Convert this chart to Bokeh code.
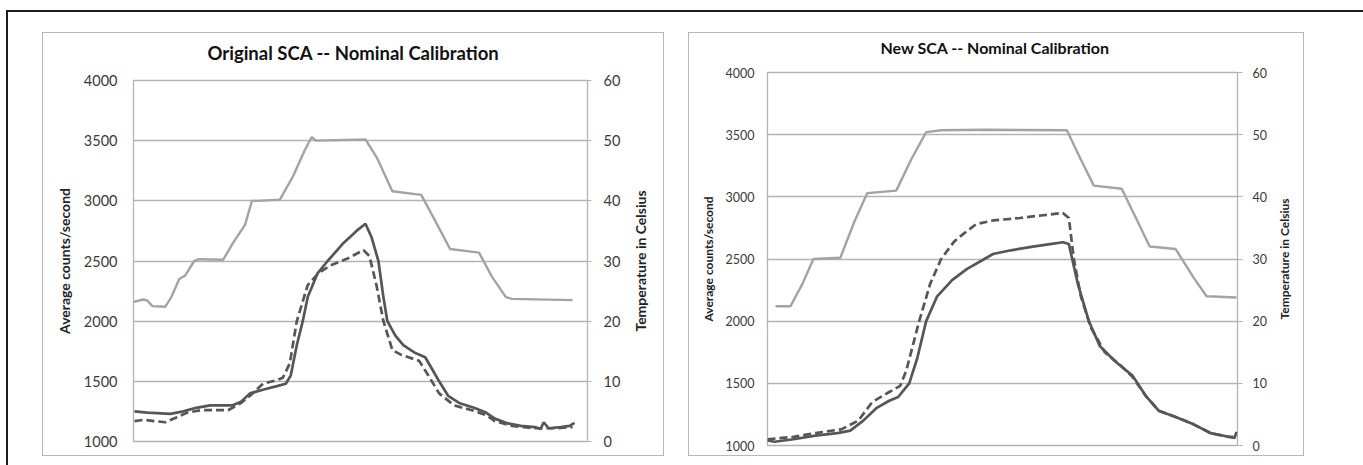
from bokeh.embed import file_html
from bokeh.layouts import column, row
from bokeh.models import FixedTicker, LinearAxis, Range1d
from bokeh.plotting import figure
from bokeh.resources import INLINE

# ---------------------------------------------------------------- data
# Sample positions (x) and readings for the original detector
orig_temp_x = [0, 10, 14, 19, 32, 38, 46, 52, 61, 66, 90, 100, 112, 119, 125,
               147, 160, 172, 179, 183, 233, 245, 260, 289, 302, 318, 347, 360,
               374, 380, 441]
orig_temp_c = [23.2, 23.6, 23.4, 22.5, 22.4, 24.0, 27.0, 27.6, 30.0, 30.3, 30.2,
               33.0, 36.0, 40.0, 40.0, 40.2, 44.0, 48.4, 50.6, 50.0, 50.2, 47.0,
               41.6, 41.0, 37.0, 32.0, 31.4, 27.4, 24.0, 23.7, 23.5]

orig_solid_x = [1, 14, 37, 50, 63, 77, 99, 108, 117, 130, 144, 153, 158, 164,
                170, 175, 185, 195, 211, 224, 233, 239, 246, 251, 255, 263, 271,
                282, 293, 300, 307, 316, 327, 342, 354, 363, 376, 389, 403, 409,
                412, 417, 429, 438, 443]
orig_solid_cps = [1250, 1240, 1230, 1250, 1280, 1300, 1300, 1330, 1400, 1430,
                  1460, 1480, 1550, 1800, 2000, 2200, 2400, 2500, 2650, 2750,
                  2810, 2700, 2500, 2200, 2000, 1880, 1800, 1740, 1700, 1600,
                  1500, 1380, 1320, 1280, 1240, 1190, 1150, 1130, 1120, 1105,
                  1160, 1110, 1120, 1130, 1155]

orig_dash_x = [1, 10, 32, 43, 54, 68, 95, 108, 117, 130, 144, 150, 157, 164, 175,
               186, 197, 215, 224, 231, 237, 244, 251, 260, 269, 287, 296, 307,
               322, 340, 354, 363, 380, 403, 425, 441]
orig_dash_cps = [1170, 1180, 1160, 1200, 1240, 1260, 1260, 1320, 1380, 1480,
                 1510, 1530, 1650, 2000, 2300, 2400, 2460, 2520, 2560, 2590,
                 2540, 2300, 2000, 1760, 1720, 1670, 1550, 1400, 1300, 1260,
                 1220, 1170, 1130, 1110, 1110, 1120]

# Sample positions (x) and readings for the new detector
new_temp_x = [8, 23, 35, 46, 73, 87, 100, 129, 144, 159, 174, 218, 300, 314,
              327, 355, 368, 383, 409, 427, 440, 470]
new_temp_c = [22.4, 22.4, 26.0, 30.0, 30.2, 36.0, 40.6, 41.0, 46.0, 50.4, 50.7,
              50.8, 50.7, 46.0, 41.8, 41.3, 37.0, 32.0, 31.6, 27.0, 24.0, 23.8]

new_solid_x = [0, 7, 26, 48, 70, 83, 96, 109, 122, 131, 142, 150, 159, 170, 185,
               200, 213, 226, 244, 266, 283, 296, 302, 311, 322, 333, 348, 366,
               379, 392, 409, 427, 444, 462, 468, 470]
new_solid_cps = [1040, 1030, 1050, 1080, 1100, 1120, 1200, 1300, 1360, 1390,
                 1500, 1700, 2000, 2200, 2330, 2420, 2480, 2540, 2570, 2600,
                 2620, 2635, 2620, 2300, 2000, 1800, 1680, 1560, 1400, 1280,
                 1230, 1170, 1100, 1070, 1060, 1110]

new_dash_x = [0, 26, 48, 74, 91, 105, 122, 133, 139, 152, 163, 174, 187, 196,
              209, 226, 253, 274, 296, 302, 307, 314, 324, 338, 353, 366, 379,
              392, 409, 427, 444, 462, 470]
new_dash_cps = [1050, 1070, 1100, 1130, 1200, 1350, 1430, 1480, 1600, 2000, 2300,
                2500, 2640, 2700, 2780, 2810, 2830, 2850, 2870, 2830, 2500, 2200,
                1950, 1750, 1650, 1550, 1400, 1280, 1230, 1170, 1100, 1070, 1070]

count_ticks = [1000, 1500, 2000, 2500, 3000, 3500, 4000]
temp_ticks = [0, 10, 20, 30, 40, 50, 60]

FONT = "Lato"
GRID = "#b3b3b3"
TEMP_COLOR = "#a3a3a3"
COUNT_COLOR = "#565656"
LABEL_COLOR = "#222222"
HEADROOM = 20  # spare canvas above the visible panel, hidden by the frame box


def make_panel(title, width, height, borders, x_max, sizes, opts,
               temp, solid, dash):
    left, right, top, bottom = borders
    tick_size, label_size, title_size = sizes
    side_w = opts["side_width"]

    p = figure(width=width - side_w, height=height + HEADROOM,
               x_range=Range1d(0, x_max), y_range=Range1d(1000, 4000),
               output_backend="svg", toolbar_location=None,
               min_border_left=left, min_border_right=right - side_w,
               min_border_top=top + HEADROOM, min_border_bottom=bottom,
               background_fill_color="white", border_fill_color="white",
               outline_line_color=GRID, outline_line_width=1.3)

    p.title.text = title
    p.title.align = "left"
    p.title.offset = opts["title_offset"]
    p.title.text_font = FONT
    p.title.text_font_style = "bold"
    p.title.text_font_size = f"{title_size}px"
    p.title.text_color = "#111111"
    p.title.standoff = opts["title"]

    p.xaxis.visible = False
    p.xgrid.visible = False

    p.extra_y_ranges = {"temp": Range1d(0, 60)}

    yl = p.yaxis[0]
    yl.ticker = FixedTicker(ticks=count_ticks)
    yl.axis_line_color = None
    yl.major_tick_in = 0
    yl.major_tick_out = 0
    yl.minor_tick_line_color = None
    yl.major_label_standoff = opts["left_ticks"]
    yl.major_label_text_font = FONT
    yl.major_label_text_font_size = f"{tick_size}px"
    yl.major_label_text_color = "#3a3a3a"
    yl.axis_label = "Average counts/second"
    yl.axis_label_text_font = FONT
    yl.axis_label_text_font_style = "bold"
    yl.axis_label_text_font_size = f"{label_size}px"
    yl.axis_label_text_color = LABEL_COLOR
    yl.axis_label_standoff = opts["left_label"]

    yr = LinearAxis(y_range_name="temp", ticker=FixedTicker(ticks=temp_ticks))
    yr.axis_line_color = None
    yr.major_tick_in = 0
    yr.major_tick_out = opts["right_tick_len"]
    yr.major_tick_line_color = GRID
    yr.minor_tick_line_color = None
    yr.major_label_standoff = opts["right_ticks"]
    yr.major_label_text_font = FONT
    yr.major_label_text_font_size = f"{tick_size}px"
    yr.major_label_text_color = "#3a3a3a"
    p.add_layout(yr, "right")

    p.ygrid.ticker = FixedTicker(ticks=count_ticks)
    p.ygrid.grid_line_color = GRID
    p.ygrid.grid_line_width = 1.3

    tx, tc = temp
    p.line(tx, tc, y_range_name="temp", line_color=TEMP_COLOR, line_width=2.4)
    sx, sy = solid
    p.line(sx, sy, line_color=COUNT_COLOR, line_width=2.7)
    dx, dy = dash
    p.line(dx, dy, line_color=COUNT_COLOR, line_width=2.7, line_dash="8 4")

    # narrow strip on the right that carries the temperature title,
    # set on a left-hand axis so that it reads bottom to top
    s = figure(width=side_w, height=height + HEADROOM,
               x_range=Range1d(0, 1), y_range=Range1d(0, 60),
               output_backend="svg", toolbar_location=None,
               min_border_left=side_w - opts["side_frame"], min_border_right=0,
               min_border_top=top + HEADROOM, min_border_bottom=bottom,
               background_fill_color="white", border_fill_color="white",
               outline_line_color=None)
    s.xaxis.visible = False
    s.xgrid.visible = False
    s.ygrid.visible = False
    ys = s.yaxis[0]
    ys.ticker = FixedTicker(ticks=[])
    ys.axis_line_color = None
    ys.major_tick_in = 0
    ys.major_tick_out = 0
    ys.minor_tick_line_color = None
    ys.major_label_standoff = 0
    ys.axis_label = "Temperature in Celsius"
    ys.axis_label_text_font = FONT
    ys.axis_label_text_font_style = "bold"
    ys.axis_label_text_font_size = f"{label_size}px"
    ys.axis_label_text_color = LABEL_COLOR
    ys.axis_label_standoff = opts["right_label"]

    inner = row(p, s, spacing=0)
    inner.margin = (-HEADROOM, 0, 0, 0)
    # light grey box round the chart area, clipping the spare headroom
    return column(inner, styles={"border": "1px solid #b8b8b8",
                                 "overflow": "hidden", "background": "white"})


panel1 = make_panel("Original SCA -- Nominal Calibration", 620, 422,
                    (90, 73, 47, 14), 456, (14.5, 14, 18.5),
                    {"title": 34, "title_offset": 74, "left_ticks": 16,
                     "left_label": 8, "right_tick_len": 4, "right_ticks": 12,
                     "side_width": 40, "side_frame": 6, "right_label": 9},
                    (orig_temp_x, orig_temp_c), (orig_solid_x, orig_solid_cps),
                    (orig_dash_x, orig_dash_cps))

panel2 = make_panel("New SCA -- Nominal Calibration", 614, 422,
                    (78, 64, 39, 10), 471, (12.5, 12, 16),
                    {"title": 31, "title_offset": 113, "left_ticks": 13,
                     "left_label": 7, "right_tick_len": 5, "right_ticks": 10,
                     "side_width": 34, "side_frame": 5, "right_label": 7},
                    (new_temp_x, new_temp_c), (new_solid_x, new_solid_cps),
                    (new_dash_x, new_dash_cps))

page = row(panel1, panel2, spacing=24,
           styles={"border-top": "2px solid #1e1e1e",
                   "border-left": "2px solid #1e1e1e",
                   "padding": "20px 59px 9px 34px",
                   "margin": "10px 0 0 6px",
                   "background": "white"})

html = file_html(page, INLINE, title="SCA calibration")
html = html.replace("<body>", '<body style="margin:0;overflow:hidden;background:white">', 1)
open("out.html", "w").write(html)
